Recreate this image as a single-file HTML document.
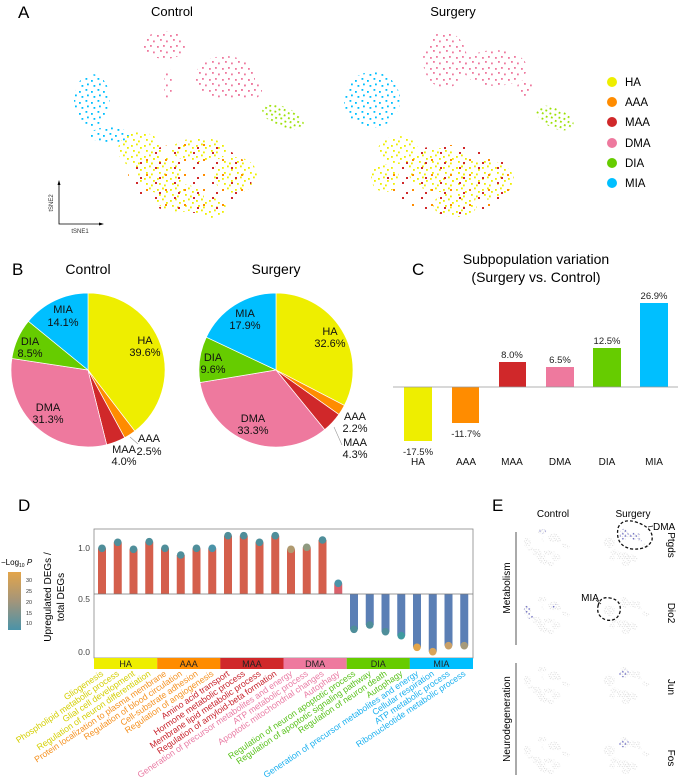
<!DOCTYPE html>
<html><head><meta charset="utf-8">
<style>
html,body{margin:0;padding:0;background:#fff;}
svg{display:block;font-family:"Liberation Sans",Arial,sans-serif;}
</style></head>
<body>
<svg width="685" height="781" viewBox="0 0 685 781" xmlns="http://www.w3.org/2000/svg">
<defs>
<pattern id="pY" width="13" height="11" patternUnits="userSpaceOnUse"><g fill="#eeee00"><rect x="1" y="2" width="1.8" height="1.8"/><rect x="6" y="0.5" width="1.8" height="1.8"/><rect x="10" y="4" width="1.8" height="1.8"/><rect x="3" y="7" width="1.8" height="1.8"/><rect x="8" y="8.5" width="1.8" height="1.8"/></g></pattern>
<pattern id="pP" width="13" height="11" patternUnits="userSpaceOnUse"><g fill="#ee799e"><rect x="1" y="2" width="1.8" height="1.8"/><rect x="7" y="1" width="1.8" height="1.8"/><rect x="4" y="6" width="1.8" height="1.8"/><rect x="10" y="7.5" width="1.8" height="1.8"/></g></pattern>
<pattern id="pB" width="12" height="11" patternUnits="userSpaceOnUse"><g fill="#00bfff"><rect x="1.5" y="1" width="1.8" height="1.8"/><rect x="7" y="3" width="1.8" height="1.8"/><rect x="3" y="6.5" width="1.8" height="1.8"/><rect x="9.5" y="8" width="1.8" height="1.8"/></g></pattern>
<pattern id="pG" width="10" height="9" patternUnits="userSpaceOnUse"><g fill="#99e000"><rect x="1" y="1" width="1.8" height="1.8"/><rect x="6" y="2.5" width="1.8" height="1.8"/><rect x="3" y="6" width="1.8" height="1.8"/><rect x="8" y="7" width="1.8" height="1.8"/></g></pattern>
<pattern id="pR" width="19" height="15" patternUnits="userSpaceOnUse"><rect x="3" y="2" width="2" height="2" fill="#d0282a"/><rect x="13" y="9" width="2" height="2" fill="#ff8c00"/><rect x="7" y="12" width="2" height="2" fill="#d0282a"/></pattern>
<pattern id="pg" width="24" height="22" patternUnits="userSpaceOnUse"><g fill="#cfcfcf"><rect x="2" y="3" width="4.5" height="4.5"/><rect x="13" y="1" width="4.5" height="4.5"/><rect x="8" y="12" width="4.5" height="4.5"/><rect x="18" y="15" width="4.5" height="4.5"/></g></pattern>
<pattern id="pb" width="27" height="25" patternUnits="userSpaceOnUse"><rect x="4" y="4" width="6" height="6" fill="#3a3ab0"/><rect x="17" y="15" width="6" height="6" fill="#3a3ab0"/></pattern>
<g id="cP"><ellipse cx="165" cy="45" rx="22" ry="14"/><ellipse cx="225" cy="78" rx="30" ry="22"/><ellipse cx="248" cy="90" rx="14" ry="10"/><ellipse cx="168" cy="85" rx="4" ry="18"/></g>
<g id="cB"><ellipse cx="92" cy="100" rx="18" ry="26"/><ellipse cx="110" cy="135" rx="20" ry="8"/></g>
<g id="cG"><ellipse cx="283" cy="117" rx="22" ry="10" transform="rotate(22 283 117)"/></g>
<g id="cY"><ellipse cx="140" cy="150" rx="22" ry="18"/><ellipse cx="160" cy="175" rx="22" ry="18"/><ellipse cx="200" cy="150" rx="28" ry="12"/><ellipse cx="180" cy="198" rx="24" ry="14"/><ellipse cx="235" cy="175" rx="22" ry="18"/><ellipse cx="210" cy="208" rx="16" ry="10"/></g>
<g id="sP"><ellipse cx="445" cy="60" rx="22" ry="28"/><ellipse cx="495" cy="68" rx="32" ry="18"/><ellipse cx="525" cy="88" rx="8" ry="8"/></g>
<g id="sB"><ellipse cx="372" cy="100" rx="28" ry="28"/></g>
<g id="sG"><ellipse cx="555" cy="118" rx="20" ry="10" transform="rotate(25 555 118)"/></g>
<g id="sY"><ellipse cx="398" cy="150" rx="20" ry="14"/><ellipse cx="440" cy="170" rx="32" ry="22"/><ellipse cx="482" cy="180" rx="32" ry="20"/><ellipse cx="455" cy="205" rx="22" ry="12"/><ellipse cx="385" cy="178" rx="14" ry="14"/></g>
<g id="cAll"><use href="#cP"/><use href="#cB"/><use href="#cG"/><use href="#cY"/></g>
<g id="sAll"><use href="#sP"/><use href="#sB"/><use href="#sG"/><use href="#sY"/></g>
<linearGradient id="cb" x1="0" y1="0" x2="0" y2="1">
<stop offset="0" stop-color="#e3a54a"/><stop offset="0.5" stop-color="#a3957a"/><stop offset="1" stop-color="#4a93a8"/></linearGradient>
</defs>
<rect width="685" height="781" fill="#fff"/>
<!-- Panel A -->
<text x="18" y="18" font-size="17">A</text>
<text x="172" y="16" font-size="13" text-anchor="middle">Control</text>
<text x="453" y="16" font-size="13" text-anchor="middle">Surgery</text>
<use href="#cP" fill="url(#pP)"/><use href="#cB" fill="url(#pB)"/><use href="#cG" fill="url(#pG)"/><use href="#cY" fill="url(#pY)"/>
<ellipse cx="190" cy="178" rx="62" ry="35" fill="url(#pR)"/>
<use href="#sP" fill="url(#pP)"/><use href="#sB" fill="url(#pB)"/><use href="#sG" fill="url(#pG)"/><use href="#sY" fill="url(#pY)"/>
<ellipse cx="450" cy="180" rx="65" ry="35" fill="url(#pR)"/>
<path d="M59 183 V224 H101" stroke="#000" stroke-width="0.8" fill="none"/>
<path d="M57.5 185 L59 180 L60.5 185 Z M99 222.5 L104 224 L99 225.5 Z" fill="#000"/>
<text x="53" y="203" font-size="6" text-anchor="middle" transform="rotate(-90 53 203)" fill="#333">tSNE2</text>
<text x="80" y="233" font-size="6" text-anchor="middle" fill="#333">tSNE1</text>
<g font-size="11.5">
<circle cx="612" cy="82" r="5" fill="#eeee00"/><text x="625" y="86">HA</text>
<circle cx="612" cy="102" r="5" fill="#ff8c00"/><text x="625" y="106">AAA</text>
<circle cx="612" cy="122" r="5" fill="#d0282a"/><text x="625" y="126">MAA</text>
<circle cx="612" cy="143" r="5" fill="#ee799e"/><text x="625" y="147">DMA</text>
<circle cx="612" cy="163" r="5" fill="#66cc00"/><text x="625" y="167">DIA</text>
<circle cx="612" cy="183" r="5" fill="#00bfff"/><text x="625" y="187">MIA</text>
</g>
<!-- Panel B -->
<text x="12" y="275" font-size="17">B</text>
<text x="88" y="274" font-size="14" text-anchor="middle">Control</text>
<text x="276" y="274" font-size="14" text-anchor="middle">Surgery</text>
<g stroke="#fff" stroke-width="0.7">
<path d="M88 370 L88 293 A77 77 0 0 1 134.81 431.14 Z" fill="#eeee00"/>
<path d="M88 370 L134.81 431.14 A77 77 0 0 1 124.67 437.70 Z" fill="#ff8c00"/>
<path d="M88 370 L124.67 437.70 A77 77 0 0 1 106.68 444.70 Z" fill="#d0282a"/>
<path d="M88 370 L106.68 444.70 A77 77 0 0 1 11.87 358.43 Z" fill="#ee799e"/>
<path d="M88 370 L11.87 358.43 A77 77 0 0 1 28.39 321.27 Z" fill="#66cc00"/>
<path d="M88 370 L28.39 321.27 A77 77 0 0 1 88 293 Z" fill="#00bfff"/>
<path d="M276 370 L276 293 A77 77 0 0 1 344.39 405.39 Z" fill="#eeee00"/>
<path d="M276 370 L344.39 405.39 A77 77 0 0 1 338.87 414.46 Z" fill="#ff8c00"/>
<path d="M276 370 L338.87 414.46 A77 77 0 0 1 324.71 429.64 Z" fill="#d0282a"/>
<path d="M276 370 L324.71 429.64 A77 77 0 0 1 200.02 382.52 Z" fill="#ee799e"/>
<path d="M276 370 L200.02 382.52 A77 77 0 0 1 206.33 337.21 Z" fill="#66cc00"/>
<path d="M276 370 L206.33 337.21 A77 77 0 0 1 276 293 Z" fill="#00bfff"/>
</g>
<g font-size="11" text-anchor="middle" fill="#111">
<text x="63" y="313">MIA</text><text x="63" y="326">14.1%</text>
<text x="30" y="345">DIA</text><text x="30" y="357">8.5%</text>
<text x="145" y="344">HA</text><text x="145" y="356">39.6%</text>
<text x="48" y="411">DMA</text><text x="48" y="423">31.3%</text>
<text x="149" y="442">AAA</text><text x="149" y="455">2.5%</text>
<text x="124" y="453">MAA</text><text x="124" y="465">4.0%</text>
<text x="245" y="317">MIA</text><text x="245" y="329">17.9%</text>
<text x="330" y="335">HA</text><text x="330" y="347">32.6%</text>
<text x="213" y="361">DIA</text><text x="213" y="373">9.6%</text>
<text x="253" y="422">DMA</text><text x="253" y="434">33.3%</text>
<text x="355" y="420">AAA</text><text x="355" y="432">2.2%</text>
<text x="355" y="446">MAA</text><text x="355" y="458">4.3%</text>
</g>
<g stroke="#999" stroke-width="0.6" fill="none">
<path d="M130 437 L138 444"/>
<path d="M334 427 L342 445"/>
</g>
<!-- Panel C -->
<text x="412" y="275" font-size="17">C</text>
<text x="536" y="264" font-size="14" text-anchor="middle">Subpopulation variation</text>
<text x="536" y="282" font-size="14" text-anchor="middle">(Surgery vs. Control)</text>
<rect x="404" y="387" width="28" height="54" fill="#eeee00"/>
<rect x="452" y="387" width="27" height="36" fill="#ff8c00"/>
<rect x="499" y="362" width="27" height="25" fill="#d0282a"/>
<rect x="546" y="367" width="28" height="20" fill="#ee799e"/>
<rect x="593" y="348" width="28" height="39" fill="#66cc00"/>
<rect x="640" y="303" width="28" height="84" fill="#00bfff"/>
<line x1="393" y1="387" x2="678" y2="387" stroke="#999" stroke-width="0.8"/>
<g font-size="9.5" text-anchor="middle" fill="#222">
<text x="418" y="455">-17.5%</text><text x="466" y="437">-11.7%</text>
<text x="512" y="358">8.0%</text><text x="560" y="363">6.5%</text>
<text x="607" y="344">12.5%</text><text x="654" y="299">26.9%</text>
</g>
<g font-size="10" text-anchor="middle" fill="#111">
<text x="418" y="465">HA</text><text x="466" y="465">AAA</text><text x="512" y="465">MAA</text>
<text x="560" y="465">DMA</text><text x="607" y="465">DIA</text><text x="654" y="465">MIA</text>
</g>
<!-- Panel D -->
<text x="18" y="511" font-size="17">D</text>
<text x="1" y="565" font-size="8">−Log<tspan font-size="5" dy="2">10</tspan><tspan dy="-2" font-style="italic"> P</tspan></text>
<rect x="8" y="572" width="13" height="58" fill="url(#cb)"/>
<g font-size="5.5" fill="#333">
<text x="26" y="582">30</text><text x="26" y="593">25</text><text x="26" y="604">20</text><text x="26" y="615">15</text><text x="26" y="625">10</text>
</g>
<text x="51" y="597" font-size="10" text-anchor="middle" transform="rotate(-90 51 597)">Upregulated DEGs /</text>
<text x="64" y="597" font-size="10" text-anchor="middle" transform="rotate(-90 64 597)">total DEGs</text>
<g font-size="8.5" fill="#444" text-anchor="end">
<text x="90" y="551">1.0</text><text x="90" y="602">0.5</text><text x="90" y="655">0.0</text>
</g>
<rect x="94" y="529" width="379" height="129" fill="#fff" stroke="#888" stroke-width="0.8"/>
<g fill="#d45f4c">
<rect x="98" y="548.3" width="8" height="45.7"/>
<rect x="113.75" y="542.3" width="8" height="51.7"/>
<rect x="129.5" y="549.3" width="8" height="44.7"/>
<rect x="145.25" y="541.7" width="8" height="52.3"/>
<rect x="161" y="548.3" width="8" height="45.7"/>
<rect x="176.75" y="555" width="8" height="39"/>
<rect x="192.5" y="548.3" width="8" height="45.7"/>
<rect x="208.25" y="548.3" width="8" height="45.7"/>
<rect x="224" y="535.7" width="8" height="58.3"/>
<rect x="239.75" y="535.7" width="8" height="58.3"/>
<rect x="255.5" y="542.3" width="8" height="51.7"/>
<rect x="271.25" y="535.7" width="8" height="58.3"/>
<rect x="287" y="549.3" width="8" height="44.7"/>
<rect x="302.75" y="547.3" width="8" height="46.7"/>
<rect x="318.5" y="540" width="8" height="54"/>
<rect x="334.25" y="583.3" width="8" height="10.7" fill="#d8606a"/>
</g>
<g fill="#5b7fb5">
<rect x="350" y="594" width="8" height="35.3"/>
<rect x="365.75" y="594" width="8" height="31"/>
<rect x="381.5" y="594" width="8" height="37.7"/>
<rect x="397.25" y="594" width="8" height="41.7"/>
<rect x="413" y="594" width="8" height="53.3"/>
<rect x="428.75" y="594" width="8" height="57.7"/>
<rect x="444.5" y="594" width="8" height="51.7"/>
<rect x="460.25" y="594" width="8" height="51.7"/>
</g>
<g>
<circle cx="102" cy="548.3" r="3.8" fill="#4f8e9a"/>
<circle cx="117.75" cy="542.3" r="3.8" fill="#4f8e9a"/>
<circle cx="133.5" cy="549.3" r="3.8" fill="#4f8e9a"/>
<circle cx="149.25" cy="541.7" r="3.8" fill="#4f8e9a"/>
<circle cx="165" cy="548.3" r="3.8" fill="#4f8e9a"/>
<circle cx="180.75" cy="555" r="3.8" fill="#4f8e9a"/>
<circle cx="196.5" cy="548.3" r="3.8" fill="#4f8e9a"/>
<circle cx="212.25" cy="548.3" r="3.8" fill="#4a93a8"/>
<circle cx="228" cy="535.7" r="3.8" fill="#4f8e9a"/>
<circle cx="243.75" cy="535.7" r="3.8" fill="#4f8e9a"/>
<circle cx="259.5" cy="542.3" r="3.8" fill="#4f8e9a"/>
<circle cx="275.25" cy="535.7" r="3.8" fill="#4f8e9a"/>
<circle cx="291" cy="549.3" r="3.8" fill="#b09a70"/>
<circle cx="306.75" cy="547.3" r="3.8" fill="#8f9a80"/>
<circle cx="322.5" cy="540" r="3.8" fill="#4f8e9a"/>
<circle cx="338.25" cy="583.3" r="3.8" fill="#4a93a8"/>
<circle cx="354" cy="629.3" r="3.8" fill="#4f8e9a"/>
<circle cx="369.75" cy="625" r="3.8" fill="#4f8e9a"/>
<circle cx="385.5" cy="631.7" r="3.8" fill="#4f8e9a"/>
<circle cx="401.25" cy="635.7" r="3.8" fill="#3f9aa0"/>
<circle cx="417" cy="647.3" r="3.8" fill="#e3a54a"/>
<circle cx="432.75" cy="651.7" r="3.8" fill="#d8a45a"/>
<circle cx="448.5" cy="645.7" r="3.8" fill="#c9a068"/>
<circle cx="464.25" cy="645.7" r="3.8" fill="#a69a7a"/>
</g>
<line x1="94" y1="594" x2="473" y2="594" stroke="#777" stroke-width="0.8"/>
<rect x="94" y="658" width="63.2" height="11" fill="#eeee00"/>
<rect x="157.2" y="658" width="63.2" height="11" fill="#ff8c00"/>
<rect x="220.3" y="658" width="63.2" height="11" fill="#d0282a"/>
<rect x="283.5" y="658" width="63.2" height="11" fill="#ee799e"/>
<rect x="346.7" y="658" width="63.2" height="11" fill="#66cc00"/>
<rect x="409.8" y="658" width="63.2" height="11" fill="#00bfff"/>
<g font-size="9" text-anchor="middle" fill="#222">
<text x="125.6" y="667">HA</text><text x="188.8" y="667">AAA</text><text x="251.9" y="667">MAA</text>
<text x="315.1" y="667">DMA</text><text x="378.3" y="667">DIA</text><text x="441.4" y="667">MIA</text>
</g>
<g font-size="8.7" text-anchor="end">
<g fill="#d4cf00">
<text x="104" y="675" transform="rotate(-34 104 675)">Gliogenesis</text>
<text x="119.75" y="675" transform="rotate(-34 119.75 675)">Phospholipid metabolic process</text>
<text x="135.5" y="675" transform="rotate(-34 135.5 675)">Glial cell development</text>
<text x="151.25" y="675" transform="rotate(-34 151.25 675)">Regulation of neuron differentiation</text>
</g>
<g fill="#f5901e">
<text x="167" y="675" transform="rotate(-34 167 675)">Protein localization to plasma membrane</text>
<text x="182.75" y="675" transform="rotate(-34 182.75 675)">Regulation of blood circulation</text>
<text x="198.5" y="675" transform="rotate(-34 198.5 675)">Cell-substrate adhesion</text>
<text x="214.25" y="675" transform="rotate(-34 214.25 675)">Regulation of angiogenesis</text>
</g>
<g fill="#c8202a">
<text x="230" y="675" transform="rotate(-34 230 675)">Amino acid transport</text>
<text x="245.75" y="675" transform="rotate(-34 245.75 675)">Hormone metabolic process</text>
<text x="261.5" y="675" transform="rotate(-34 261.5 675)">Membrane lipid metabolic process</text>
<text x="277.25" y="675" transform="rotate(-34 277.25 675)">Regulation of amyloid-beta formation</text>
</g>
<g fill="#e97aa3">
<text x="293" y="675" transform="rotate(-34 293 675)">Generation of precursor metabolites and energy</text>
<text x="308.75" y="675" transform="rotate(-34 308.75 675)">ATP metabolic process</text>
<text x="324.5" y="675" transform="rotate(-34 324.5 675)">Apoptotic mitochondrial changes</text>
<text x="340.25" y="675" transform="rotate(-34 340.25 675)">Autophagy</text>
</g>
<g fill="#58c21a">
<text x="356" y="675" transform="rotate(-34 356 675)">Regulation of neuron apoptotic process</text>
<text x="371.75" y="675" transform="rotate(-34 371.75 675)">Regulation of apoptotic signaling pathway</text>
<text x="387.5" y="675" transform="rotate(-34 387.5 675)">Regulation of neuron death</text>
<text x="403.25" y="675" transform="rotate(-34 403.25 675)">Autophagy</text>
</g>
<g fill="#1ab0ef">
<text x="419" y="675" transform="rotate(-34 419 675)">Generation of precursor metabolites and energy</text>
<text x="434.75" y="675" transform="rotate(-34 434.75 675)">Cellular respiration</text>
<text x="450.5" y="675" transform="rotate(-34 450.5 675)">ATP metabolic process</text>
<text x="466.25" y="675" transform="rotate(-34 466.25 675)">Ribonucleotide metabolic process</text>
</g>
</g>
<!-- Panel E -->
<text x="492" y="511" font-size="17">E</text>
<text x="553" y="517" font-size="10" text-anchor="middle">Control</text>
<text x="633" y="517" font-size="10" text-anchor="middle">Surgery</text>
<g transform="translate(523 528) scale(0.2) translate(-70 -28)"><use href="#cAll" fill="url(#pg)"/><ellipse cx="165" cy="45" rx="20" ry="12" fill="url(#pb)" opacity="0.6"/></g>
<g transform="translate(603 528) scale(0.2) translate(-340 -28)"><use href="#sAll" fill="url(#pg)"/><use href="#sP" fill="url(#pb)"/></g>
<g transform="translate(523 596) scale(0.2) translate(-70 -28)"><use href="#cAll" fill="url(#pg)"/><use href="#cB" fill="url(#pb)"/><ellipse cx="225" cy="78" rx="20" ry="10" fill="url(#pb)"/></g>
<g transform="translate(603 596) scale(0.2) translate(-340 -28)"><use href="#sAll" fill="url(#pg)"/></g>
<g transform="translate(523 666) scale(0.2) translate(-70 -28)"><use href="#cAll" fill="url(#pg)"/></g>
<g transform="translate(603 666) scale(0.2) translate(-340 -28)"><use href="#sAll" fill="url(#pg)"/><ellipse cx="445" cy="65" rx="25" ry="20" fill="url(#pb)"/></g>
<g transform="translate(523 736) scale(0.2) translate(-70 -28)"><use href="#cAll" fill="url(#pg)"/></g>
<g transform="translate(603 736) scale(0.2) translate(-340 -28)"><use href="#sAll" fill="url(#pg)"/><ellipse cx="445" cy="65" rx="25" ry="20" fill="url(#pb)"/></g>
<g font-size="10">
<text x="668" y="545" text-anchor="middle" transform="rotate(90 668 545)">Ptgds</text>
<text x="668" y="613" text-anchor="middle" transform="rotate(90 668 613)">Dio2</text>
<text x="668" y="687" text-anchor="middle" transform="rotate(90 668 687)">Jun</text>
<text x="668" y="758" text-anchor="middle" transform="rotate(90 668 758)">Fos</text>
<text x="510" y="588" text-anchor="middle" transform="rotate(-90 510 588)">Metabolism</text>
<text x="510" y="719" text-anchor="middle" transform="rotate(-90 510 719)">Neurodegeneration</text>
</g>
<line x1="516" y1="532" x2="516" y2="645" stroke="#555" stroke-width="1"/>
<line x1="516" y1="663" x2="516" y2="775" stroke="#555" stroke-width="1"/>
<g fill="none" stroke="#111" stroke-width="1.3" stroke-dasharray="3,2">
<path d="M618 528 Q622 518 636 522 Q654 528 652 540 Q648 550 632 549 Q615 546 618 528 Z"/>
<path d="M598 606 Q600 596 610 598 Q622 600 620 612 Q617 622 606 620 Q596 616 598 606 Z"/>
</g>
<g stroke="#111" stroke-width="0.7"><line x1="648" y1="527" x2="653" y2="526"/><line x1="596" y1="600" x2="601" y2="604"/></g>
<text x="653" y="530" font-size="10">DMA</text>
<text x="590" y="601" font-size="10" text-anchor="middle">MIA</text>
</svg>
</body></html>
